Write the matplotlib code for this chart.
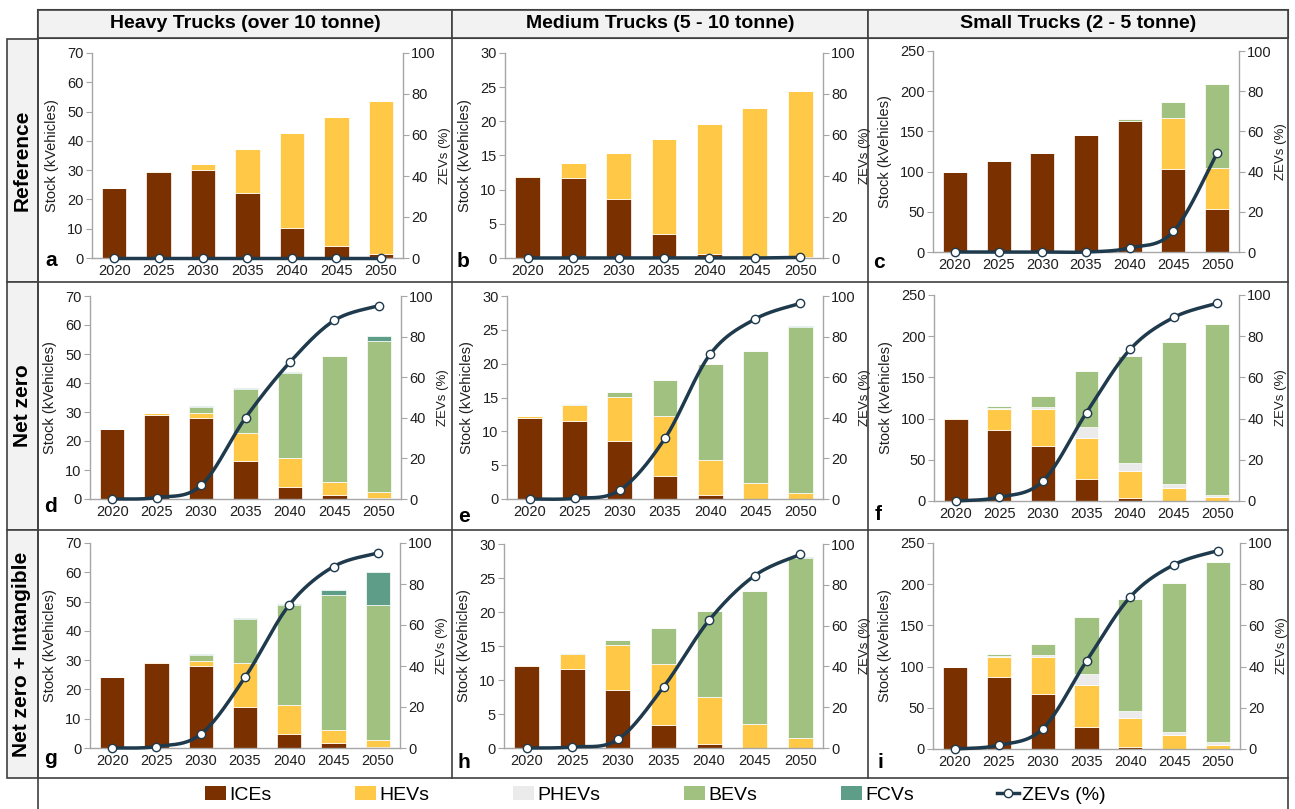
import numpy as np
import matplotlib
matplotlib.use("Agg")
import matplotlib.pyplot as plt
from matplotlib.patches import Rectangle, Patch
from matplotlib.lines import Line2D

plt.rcParams['font.family'] = ['Liberation Sans', 'DejaVu Sans']

# ---------------- DATA ----------------
years = ["2020", "2025", "2030", "2035", "2040", "2045", "2050"]
col_titles = ["Heavy Trucks (over 10 tonne)", "Medium Trucks (5 - 10 tonne)", "Small Trucks (2 - 5 tonne)"]
row_titles = ["Reference", "Net zero", "Net zero + Intangible"]
tech_labels = ["ICEs", "HEVs", "PHEVs", "BEVs", "FCVs"]

# a: Reference / Heavy
a_ice = [24, 29.3, 30, 22.3, 10.2, 4, 1.5]
a_hev = [0, 0.3, 2, 15, 32.5, 44, 52.2]
a_phev = [0, 0, 0, 0, 0, 0, 0]
a_bev = [0, 0, 0, 0, 0, 0, 0]
a_fcv = [0, 0, 0, 0, 0, 0, 0]
a_zev = [0, 0, 0, 0, 0, 0, 0]
# b: Reference / Medium
b_ice = [11.9, 11.7, 8.6, 3.5, 0.6, 0.1, 0.1]
b_hev = [0.15, 2.25, 6.8, 13.9, 18.95, 21.8, 24.3]
b_phev = [0, 0, 0, 0, 0, 0, 0]
b_bev = [0, 0, 0, 0, 0, 0, 0.1]
b_fcv = [0, 0, 0, 0, 0, 0, 0]
b_zev = [0, 0, 0, 0, 0, 0, 0.3]
# c: Reference / Small
c_ice = [100, 113, 123.5, 145, 163, 103, 54]
c_hev = [0, 0.5, 0, 0, 0, 64, 51]
c_phev = [0, 0, 0, 0, 0, 0, 0]
c_bev = [0, 0, 0, 0, 3, 20, 104]
c_fcv = [0, 0, 0, 0, 0, 0, 0]
c_zev = [0, 0, 0, 0, 2, 10.2, 49.3]
# d: Net zero / Heavy
d_ice = [24, 29, 27.9, 13.1, 4.1, 1.3, 0.2]
d_hev = [0, 0.5, 1.8, 9.8, 9.9, 4.5, 2.3]
d_phev = [0, 0, 0, 0, 0, 0, 0]
d_bev = [0, 0, 2.1, 15.1, 29.5, 43.4, 52]
d_fcv = [0, 0, 0.2, 0.3, 0.4, 0.2, 1.8]
d_zev = [0, 0.7, 6.7, 40, 67.4, 88, 95.2]
# e: Net zero / Medium
e_ice = [12, 11.6, 8.6, 3.4, 0.6, 0, 0]
e_hev = [0.2, 2.3, 6.5, 8.9, 5.2, 2.4, 0.9]
e_phev = [0, 0, 0, 0, 0, 0, 0]
e_bev = [0, 0.1, 0.7, 5.3, 14.2, 19.5, 24.5]
e_fcv = [0, 0, 0, 0, 0, 0, 0.1]
e_zev = [0, 0.3, 4.4, 29.9, 71.3, 88.7, 96.4]
# f: Net zero / Small
f_ice = [100, 86.7, 67.3, 26.3, 3.2, 0, 0]
f_hev = [0.5, 25.1, 44.5, 50.7, 33.3, 15.4, 4.9]
f_phev = [0, 1.2, 2.5, 12.5, 9.7, 4.9, 2.8]
f_bev = [0, 2, 12.9, 68.5, 130.1, 172.2, 207.3]
f_fcv = [0, 0, 0, 0, 0, 0, 0]
f_zev = [0, 1.8, 9.7, 42.9, 73.6, 89.1, 96.0]
# g: Net zero + Intangible / Heavy
g_ice = [24.1, 29, 27.9, 14, 4.8, 1.6, 0.2]
g_hev = [0, 0.5, 1.9, 15, 9.9, 4.5, 2.5]
g_phev = [0, 0, 0, 0, 0, 0, 0]
g_bev = [0, 0, 2.1, 15.2, 34, 46.3, 46.2]
g_fcv = [0, 0, 0.2, 0.2, 0.4, 1.5, 11.3]
g_zev = [0, 0.7, 6.7, 34.5, 69.8, 88.5, 95.1]
# h: Net zero + Intangible / Medium
h_ice = [12, 11.6, 8.6, 3.4, 0.6, 0, 0]
h_hev = [0.2, 2.25, 6.5, 9, 6.9, 3.6, 1.4]
h_phev = [0, 0, 0, 0, 0, 0, 0]
h_bev = [0, 0.15, 0.8, 5.3, 12.7, 19.45, 26.55]
h_fcv = [0, 0, 0, 0, 0, 0, 0.1]
h_zev = [0, 0.5, 4.2, 29.9, 62.6, 84.5, 94.9]
# i: Net zero + Intangible / Small
i_ice = [100, 87.1, 66.9, 26.6, 2.8, 0, 0]
i_hev = [0, 25, 45.2, 51.2, 35.1, 16.5, 5.2]
i_phev = [0, 1.2, 2.4, 12.9, 8.5, 4.5, 2.9]
i_bev = [0, 1.6, 12.9, 69, 135.1, 180.6, 218.9]
i_fcv = [0, 0, 0, 0, 0, 0, 0.5]
i_zev = [0, 1.8, 9.8, 42.7, 73.9, 89.5, 96.3]

# ---------------- STYLE ----------------
W, H = 1295, 809
tech_colors = ["#7B3000", "#FFC947", "#EBEBEB", "#A0C180", "#5E9E88"]
line_color = "#1E3A4C"
spine_color = "#A6A6A6"
text_color = "#1F1F1F"
frame_color = "#404040"
cell_fill = "#F2F2F2"

fig = plt.figure(figsize=(W / 100, H / 100), dpi=100)


def rect(l, r, t, b):
    return [l / W, 1 - b / H, (r - l) / W, (b - t) / H]


def smooth(xs, ys, n=40):
    xs = np.asarray(xs, float)
    ys = np.asarray(ys, float)
    ox, oy = [], []
    m = len(xs)
    for k in range(m - 1):
        p0 = k - 1 if k > 0 else k
        p3 = k + 2 if k + 2 < m else k + 1
        c1x = xs[k] + (xs[k + 1] - xs[p0]) / 6
        c1y = ys[k] + (ys[k + 1] - ys[p0]) / 6
        c2x = xs[k + 1] - (xs[p3] - xs[k]) / 6
        c2y = ys[k + 1] - (ys[p3] - ys[k]) / 6
        t = np.linspace(0, 1, n)
        bx = (1 - t) ** 3 * xs[k] + 3 * (1 - t) ** 2 * t * c1x + 3 * (1 - t) * t ** 2 * c2x + t ** 3 * xs[k + 1]
        by = (1 - t) ** 3 * ys[k] + 3 * (1 - t) ** 2 * t * c1y + 3 * (1 - t) * t ** 2 * c2y + t ** 3 * ys[k + 1]
        ox.extend(bx)
        oy.extend(by)
    return np.array(ox), np.array(oy)


panels = [
    ("a", [a_ice, a_hev, a_phev, a_bev, a_fcv], a_zev, 70, 10, (92, 403, 53, 258), (45, 260)),
    ("b", [b_ice, b_hev, b_phev, b_bev, b_fcv], b_zev, 30, 5, (505, 823, 53, 258), (457, 262)),
    ("c", [c_ice, c_hev, c_phev, c_bev, c_fcv], c_zev, 250, 50, (933, 1239, 51, 252), (873, 263)),
    ("d", [d_ice, d_hev, d_phev, d_bev, d_fcv], d_zev, 70, 10, (90, 401, 296, 499), (44, 507)),
    ("e", [e_ice, e_hev, e_phev, e_bev, e_fcv], e_zev, 30, 5, (507, 823, 296, 499), (458, 516)),
    ("f", [f_ice, f_hev, f_phev, f_bev, f_fcv], f_zev, 250, 50, (934, 1239, 295, 501), (875, 515)),
    ("g", [g_ice, g_hev, g_phev, g_bev, g_fcv], g_zev, 70, 10, (90, 400, 543, 748), (44, 758)),
    ("h", [h_ice, h_hev, h_phev, h_bev, h_fcv], h_zev, 30, 5, (504, 823, 544, 748), (457, 762)),
    ("i", [i_ice, i_hev, i_phev, i_bev, i_fcv], i_zev, 250, 50, (933, 1240, 543, 749), (877, 762)),
]

x = np.arange(len(years))
for letter, stacks, zev, ymax, ystep, r, lpos in panels:
    ax = fig.add_axes(rect(*r))
    bottom = np.zeros(len(years))
    for vals, col in zip(stacks, tech_colors):
        v = np.asarray(vals, float)
        ax.bar(x, v, width=0.55, bottom=bottom, color=col, edgecolor="white", linewidth=0.5, zorder=2)
        bottom += v
    ax.set_xlim(-0.5, len(years) - 0.5)
    ax.set_ylim(0, ymax)
    ax.set_yticks(np.arange(0, ymax + 0.01, ystep))
    ax.set_xticks(x)
    ax.set_xticklabels(years)
    for s in ["top", "right"]:
        ax.spines[s].set_visible(False)
    for s in ["left", "bottom"]:
        ax.spines[s].set_color(spine_color)
        ax.spines[s].set_linewidth(1.0)
    ax.tick_params(axis="x", length=0, pad=4, labelsize=10.5, labelcolor=text_color)
    ax.tick_params(axis="y", length=4, width=0.8, color=spine_color, pad=2, labelsize=10.5, labelcolor=text_color)
    ax.set_ylabel("Stock (kVehicles)", fontsize=10.5, color=text_color, labelpad=6)

    ax2 = ax.twinx()
    ax2.set_ylim(0, 100)
    ax2.set_yticks(np.arange(0, 101, 20))
    for s in ["top", "left", "bottom"]:
        ax2.spines[s].set_visible(False)
    ax2.spines["right"].set_color(spine_color)
    ax2.spines["right"].set_linewidth(1.0)
    ax2.tick_params(axis="y", length=4, width=0.8, color=spine_color, pad=2, labelsize=10.5, labelcolor=text_color)
    ax2.set_ylabel("ZEVs (%)", fontsize=9.5, color=text_color, labelpad=2)
    sx, sy = smooth(x, zev)
    ax2.plot(sx, sy, color=line_color, lw=2.5, zorder=3, clip_on=False, solid_capstyle="round")
    ax2.plot(x, zev, linestyle="none", marker="o", markersize=6, markerfacecolor="white",
             markeredgecolor=line_color, markeredgewidth=1.0, zorder=4, clip_on=False)

    fig.text(lpos[0] / W, 1 - lpos[1] / H, letter, fontsize=15, fontweight="bold",
             ha="left", va="center", color="black")

# ---------------- FRAME ----------------
def frect(x0, y0, x1, y1, fc, lw=1.2):
    fig.add_artist(Rectangle((x0 / W, 1 - y1 / H), (x1 - x0) / W, (y1 - y0) / H,
                             transform=fig.transFigure, facecolor=fc, edgecolor=frame_color,
                             linewidth=lw, zorder=-5))


def fline(x0, y0, x1, y1, lw=1.2):
    fig.add_artist(Line2D([x0 / W, x1 / W], [1 - y0 / H, 1 - y1 / H], transform=fig.transFigure,
                          color=frame_color, linewidth=lw, zorder=-4))


col_edges = [38, 452, 868, 1288]
row_edges = [38, 282, 530, 778]
# header
frect(38, 10, 1288, 38, cell_fill, lw=1.5)
for j in range(3):
    frect(col_edges[j], 10, col_edges[j + 1], 38, cell_fill, lw=1.2)
    fig.text((col_edges[j] + col_edges[j + 1]) / 2 / W, 1 - 24 / H, col_titles[j],
             fontsize=14, fontweight="bold", ha="center", va="center", color="black")
# row label column
for k in range(3):
    frect(7, row_edges[k] + (1 if k == 0 else 0), 38, row_edges[k + 1], cell_fill, lw=1.2)
    fig.text(22 / W, 1 - (row_edges[k] + row_edges[k + 1]) / 2 / H, row_titles[k],
             fontsize=15, fontweight="bold", ha="center", va="center", rotation=90, color="black")
# grid of plot cells
for xe in col_edges:
    fline(xe, 38, xe, 778)
for ye in row_edges[1:]:
    fline(38, ye, 1288, ye)
# legend cell
fline(38, 778, 38, 809)
fline(1288, 778, 1288, 809)

handles = [Patch(facecolor=c, edgecolor="none") for c in tech_colors]
handles.append(Line2D([0], [0], color=line_color, lw=2.5, marker="o", markersize=6,
                      markerfacecolor="white", markeredgecolor=line_color, markeredgewidth=1.0))
labels = tech_labels + ["ZEVs (%)"]
fig.legend(handles, labels, loc="center", bbox_to_anchor=(655 / W, 1 - 795 / H), ncol=6,
           frameon=False, fontsize=14, handlelength=1.1, handleheight=0.75, handletextpad=0.15,
           columnspacing=4.3, borderpad=0)

fig.savefig("out.png", dpi=100, facecolor="white")
